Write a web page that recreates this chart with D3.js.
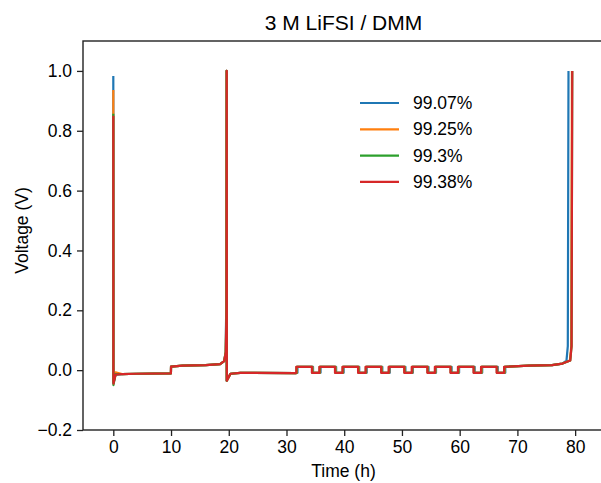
<!DOCTYPE html>
<html>
<head>
<meta charset="utf-8">
<script src="https://cdn.jsdelivr.net/npm/d3@7"></script>
<style>
  html, body { margin: 0; padding: 0; background: #fff; }
  svg { display: block; }
  text { font-family: "Liberation Sans", Arial, sans-serif; fill: #000; }
</style>
</head>
<body>
<svg id="chart" width="601" height="483"></svg>
<script>
// Series (Coulombic efficiency of each cell)
const seriesLabels = ["99.07%", "99.25%", "99.3%", "99.38%"];
const seriesColors = ["#1f77b4", "#ff7f0e", "#2ca02c", "#d62728"];

// Initial voltage spike and dip at t = 0 (V)
const firstPeak  = [0.983, 0.936, 0.857, 0.85];
const firstDip   = [-0.043, -0.038, -0.05, -0.045];
const earlyLevel = [-0.015, -0.007, -0.013, -0.015];

// Time (h) where each cell reaches the 1 V cut-off
const midCutoff = [19.6, 19.62, 19.64, 19.65];
const endCutoff = [78.85, 79.45, 79.5, 79.5];
// Small delay of the cycling step edges per cell (h)
const stepLag = [0.2, 0.1, 0.05, 0];

// First plating (after the initial spike)
const platingTime = [1.5, 4, 9.98];
const platingVolt = [-0.013, -0.012, -0.011];

// First stripping up to the cut-off
const strippingTime = [10.0, 12, 16, 18.5, 19.2];
const strippingVolt = [0.012, 0.015, 0.017, 0.02, 0.03];

// Reservoir plating after the first cut-off
const reservoirTime = [20.3, 22, 31.6];
const reservoirVolt = [-0.012, -0.009, -0.01];

// Cycling: step edges (h) and the two levels (V)
const riseTimes = [31.7, 35.7, 39.7, 43.7, 47.7, 51.7, 55.7, 59.7, 63.7, 67.7];
const fallTimes = [34.4, 38.4, 42.4, 46.4, 50.4, 54.4, 58.4, 62.4, 66.4];
const highLevel = 0.011;
const lowLevel = -0.009;

// Final stripping to the cut-off
const finalTime = [72, 76, 77.8];
const finalVolt = [0.015, 0.017, 0.022];

const xTicks = [0, 10, 20, 30, 40, 50, 60, 70, 80];
const yTicks = [-0.2, 0, 0.2, 0.4, 0.6, 0.8, 1.0];

// Build each cell's voltage profile from the pieces above
function profile(i) {
  const pts = [];
  pts.push([0, firstPeak[i]]);
  pts.push([0.02, firstDip[i]]);
  pts.push([0.4, earlyLevel[i]]);
  platingTime.forEach((t, k) => pts.push([t, platingVolt[k]]));
  strippingTime.forEach((t, k) => pts.push([t, strippingVolt[k]]));
  pts.push([midCutoff[i] - 0.15, 0.06]);
  pts.push([midCutoff[i] - 0.04, 0.2]);
  pts.push([midCutoff[i], 1.0]);
  pts.push([midCutoff[i] + 0.02, -0.035]);
  reservoirTime.forEach((t, k) => pts.push([t, reservoirVolt[k]]));
  riseTimes.forEach((t, k) => {
    const r = t + stepLag[i];
    pts.push([r, lowLevel]);
    pts.push([r, highLevel]);
    if (k < fallTimes.length) {
      const f = fallTimes[k] + stepLag[i];
      pts.push([f, highLevel]);
      pts.push([f, lowLevel]);
    }
  });
  finalTime.forEach((t, k) => pts.push([t, finalVolt[k]]));
  pts.push([endCutoff[i] - 0.35, 0.032]);
  pts.push([endCutoff[i] - 0.12, 0.08]);
  pts.push([endCutoff[i], 1.0]);
  return pts;
}

const svg = d3.select("#chart");
const margin = { left: 83, top: 41, right: 604, bottom: 430 };

const x = d3.scaleLinear().domain([-5.25, 85]).range([margin.left, margin.right]);
const y = d3.scaleLinear().domain([-0.2, 1.1]).range([margin.bottom, margin.top]);

svg.append("defs").append("clipPath").attr("id", "plotclip")
  .append("rect")
  .attr("x", margin.left).attr("y", margin.top)
  .attr("width", margin.right - margin.left)
  .attr("height", margin.bottom - margin.top);

const line = d3.line().x(d => x(d[0])).y(d => y(d[1]));

const plot = svg.append("g").attr("clip-path", "url(#plotclip)");
seriesLabels.forEach((lab, i) => {
  plot.append("path")
    .datum(profile(i))
    .attr("fill", "none")
    .attr("stroke", seriesColors[i])
    .attr("stroke-width", 2.2)
    .attr("stroke-linejoin", "round")
    .attr("d", line);
});

// Axes
const fmtY = d => d3.format(".1f")(d).replace("-", "\u2212");
const xAxis = svg.append("g")
  .attr("transform", `translate(0,${margin.bottom})`)
  .call(d3.axisBottom(x).tickValues(xTicks).tickSizeInner(6).tickSizeOuter(0).tickPadding(5));
const yAxis = svg.append("g")
  .attr("transform", `translate(${margin.left},0)`)
  .call(d3.axisLeft(y).tickValues(yTicks).tickFormat(fmtY).tickSizeInner(6).tickSizeOuter(0).tickPadding(5));

[xAxis, yAxis].forEach(g => {
  g.select(".domain").remove();
  g.selectAll(".tick line").attr("stroke", "#222").attr("stroke-width", 1.3);
  g.selectAll(".tick text")
    .attr("font-size", "17.5px")
    .attr("font-family", "Liberation Sans, Arial, sans-serif")
    .attr("fill", "#111");
});

// Frame
svg.append("rect")
  .attr("x", margin.left).attr("y", margin.top)
  .attr("width", margin.right - margin.left)
  .attr("height", margin.bottom - margin.top)
  .attr("fill", "none")
  .attr("stroke", "#222")
  .attr("stroke-width", 1.4);

// Labels
svg.append("text")
  .attr("x", (margin.left + margin.right) / 2)
  .attr("y", 30)
  .attr("text-anchor", "middle")
  .attr("font-size", "21px")
  .text("3 M LiFSI / DMM");

svg.append("text")
  .attr("x", (margin.left + margin.right) / 2)
  .attr("y", 477)
  .attr("text-anchor", "middle")
  .attr("font-size", "17.5px")
  .text("Time (h)");

svg.append("text")
  .attr("transform", `translate(28,${(margin.top + margin.bottom) / 2 - 5}) rotate(-90)`)
  .attr("text-anchor", "middle")
  .attr("font-size", "17.5px")
  .text("Voltage (V)");

// Legend
const legend = svg.append("g");
seriesLabels.forEach((lab, i) => {
  const ly = 103 + i * 26.3;
  legend.append("line")
    .attr("x1", 360).attr("x2", 399)
    .attr("y1", ly).attr("y2", ly)
    .attr("stroke", seriesColors[i])
    .attr("stroke-width", 2.2);
  legend.append("text")
    .attr("x", 413).attr("y", ly + 6)
    .attr("font-size", "17.5px")
    .text(lab);
});
</script>
</body>
</html>
